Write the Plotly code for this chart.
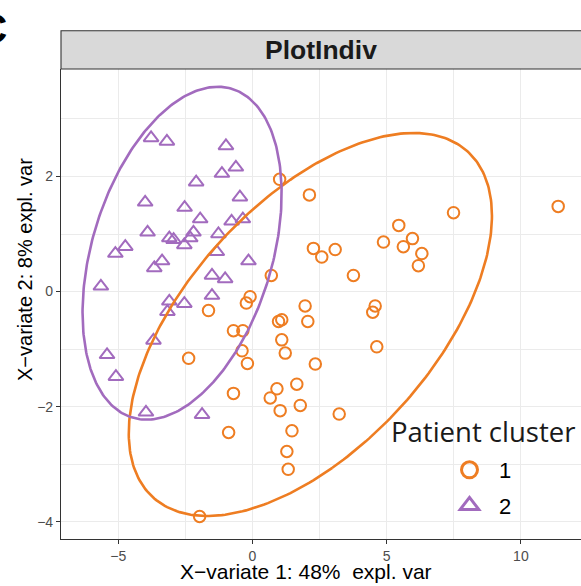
import numpy as np
import plotly.graph_objects as go

# ---------------- data ----------------
cluster1_x = [1.01, 2.12, 11.39, 7.49, 5.45, 5.96, 4.88, 2.27, 3.08, 2.58,
              5.62, 6.31, 6.18, 3.76, 0.70, -0.09, -0.23, -1.64, 1.96, 4.57,
              4.48, 0.97, 1.09, 2.06, -0.71, -0.36, 1.09, -0.39, 1.22, -2.38,
              -0.19, 4.63, 2.34, 0.91, 1.65, 0.66, 1.78, 1.03, -0.71, 3.23,
              1.47, -0.89, 1.28, 1.33, -1.97]
cluster1_y = [1.95, 1.68, 1.48, 1.37, 1.15, 0.92, 0.86, 0.75, 0.73, 0.60,
              0.78, 0.66, 0.45, 0.28, 0.28, -0.09, -0.20, -0.33, -0.25, -0.25,
              -0.36, -0.52, -0.49, -0.52, -0.68, -0.68, -0.84, -1.03, -1.07, -1.16,
              -1.25, -0.96, -1.26, -1.69, -1.61, -1.85, -1.98, -2.07, -1.77, -2.13,
              -2.42, -2.45, -2.78, -3.09, -3.91]
cluster2_x = [-3.78, -3.19, -0.99, -0.62, -1.14, -2.10, -4.00, -0.47, -2.53, -1.95,
              -0.78, -0.36, -3.91, -2.20, -3.10, -2.94, -2.32, -2.54, -1.27, -4.74,
              -5.11, -1.33, -3.37, -3.66, -0.15, -1.51, -1.02, -5.65, -3.10, -3.17,
              -2.54, -1.51, -3.69, -5.42, -5.09, -3.97, -1.88]
cluster2_y = [2.67, 2.61, 2.53, 2.16, 2.05, 1.90, 1.55, 1.64, 1.46, 1.26,
              1.22, 1.26, 1.03, 1.03, 0.93, 0.90, 0.93, 0.81, 1.00, 0.78,
              0.66, 0.69, 0.53, 0.41, 0.53, 0.28, 0.22, 0.09, -0.17, -0.35,
              -0.21, -0.07, -0.85, -1.10, -1.48, -2.10, -2.14]

cluster_names = ["1", "2"]
x_ticks = [-5, 0, 5, 10]
y_ticks = [-4, -2, 0, 2]
ellipse_level = 0.95

ORANGE = "#EE7D22"
PURPLE = "#A26BBE"
FONT = "Liberation Sans, Arial, sans-serif"


def conf_ellipse(x, y, level=0.95, n=300):
    """95% confidence ellipse (like mixOmics / ellipse::ellipse on cov matrix)."""
    pts = np.column_stack([x, y])
    centre = pts.mean(axis=0)
    cov = np.cov(pts, rowvar=False)
    t = np.sqrt(-2.0 * np.log(1.0 - level))  # sqrt(qchisq(level, 2))
    vals, vecs = np.linalg.eigh(cov)
    a = np.linspace(0, 2 * np.pi, n)
    circ = np.vstack([np.cos(a), np.sin(a)])
    ell = (vecs @ np.diag(np.sqrt(vals)) @ circ) * t
    return ell[0] + centre[0], ell[1] + centre[1]


fig = go.Figure()

# points
fig.add_trace(go.Scatter(
    x=cluster1_x, y=cluster1_y, mode="markers", showlegend=False,
    marker=dict(symbol="circle-open", size=11.5, color=ORANGE,
                line=dict(width=2, color=ORANGE))))
fig.add_trace(go.Scatter(
    x=cluster2_x, y=cluster2_y, mode="markers", showlegend=False,
    marker=dict(symbol="triangle-up-open", size=13, color=PURPLE,
                line=dict(width=2, color=PURPLE))))

# ellipses
for xs, ys, col in [(cluster1_x, cluster1_y, ORANGE), (cluster2_x, cluster2_y, PURPLE)]:
    ex, ey = conf_ellipse(np.array(xs), np.array(ys), ellipse_level)
    fig.add_trace(go.Scatter(x=ex, y=ey, mode="lines", showlegend=False,
                             line=dict(color=col, width=2.6), hoverinfo="skip"))

# legend entries
for name, sym, col in [(cluster_names[0], "circle-open", ORANGE),
                       (cluster_names[1], "triangle-up-open", PURPLE)]:
    fig.add_trace(go.Scatter(x=[None], y=[None], mode="markers", name=name,
                             legendgroup="g" + name,
                             marker=dict(symbol=sym, size=16, color=col,
                                         line=dict(width=3, color=col))))

# page body margin is removed by post_script below, so figure pixels = page pixels
W, H = 581, 586
ml, mr, mt, mb = 61, 0, 69, 47
pw, ph = W - ml - mr, H - mt - mb


def px_x(p):
    return (p - ml) / pw


def px_y(p):
    return (H - mb - p) / ph


grid = "#EBEBEB"
axis_common = dict(
    showgrid=True, gridcolor=grid, gridwidth=1.1,
    zeroline=False, showline=True, linecolor="#333333", linewidth=1.1,
    ticks="outside", ticklen=4, tickwidth=1.1, tickcolor="#333333",
    tickfont=dict(family=FONT, size=14, color="#4D4D4D"),
)

fig.update_layout(
    width=W, height=H,
    margin=dict(l=ml, r=mr, t=mt, b=mb, pad=0),
    paper_bgcolor="white", plot_bgcolor="white",
    font=dict(family=FONT, color="black"),
    xaxis=dict(range=[-7.136, 12.24], tickvals=x_ticks,
               minor=dict(dtick=2.5, tick0=0, showgrid=True, gridcolor=grid, gridwidth=0.6,
                          ticks=""),
               **axis_common),
    yaxis=dict(range=[-4.301, 3.868], tickvals=y_ticks,
               minor=dict(dtick=1, tick0=0, showgrid=True, gridcolor=grid, gridwidth=0.6,
                          ticks=""),
               **axis_common),
    showlegend=True,
    legend=dict(x=px_x(440), y=px_y(449), xanchor="left", yanchor="top",
                bgcolor="rgba(0,0,0,0)", borderwidth=0,
                font=dict(family=FONT, size=22, color="black"),
                itemwidth=49, tracegroupgap=4, traceorder="grouped"),
)

# white legend background box (hides gridlines there)
fig.add_shape(type="rect", xref="x", yref="y", layer="below",
              x0=6.69, x1=11.53, y0=-4.06, y1=-2.11,
              fillcolor="white", line=dict(width=0))

# strip (facet title)
fig.add_shape(type="rect", xref="paper", yref="paper",
              x0=0, x1=1.003, y0=1, y1=px_y(30.7),
              fillcolor="#D9D9D9", line=dict(color="#333333", width=1.1))
fig.add_annotation(text="<b>PlotIndiv</b>", xref="paper", yref="paper",
                   x=px_x(320.5), y=px_y(50), xanchor="center", yanchor="middle",
                   showarrow=False, font=dict(family=FONT, size=26.5, color="#1A1A1A"))

# axis titles
fig.add_annotation(text="X\u2212variate 1: 48%  expl. var", xref="paper", yref="paper",
                   x=px_x(306), y=px_y(571), xanchor="center", yanchor="middle",
                   showarrow=False, font=dict(family=FONT, size=21, color="black"))
fig.add_annotation(text="X\u2212variate 2: 8% expl. var", xref="paper", yref="paper",
                   x=px_x(25), y=px_y(270), xanchor="center", yanchor="middle",
                   textangle=-90, showarrow=False,
                   font=dict(family=FONT, size=20, color="black"))

# legend title
fig.add_annotation(text="Patient cluster", xref="paper", yref="paper",
                   x=px_x(482.5), y=px_y(431), xanchor="center", yanchor="middle",
                   showarrow=False,
                   font=dict(family="Open Sans, Noto Sans, sans-serif", size=27.5, color="#1A1A1A"))

# panel tag (mostly cut off at the left edge, as in the reference)
fig.add_annotation(text="<b>C</b>", xref="paper", yref="paper",
                   x=px_x(9), y=px_y(28), xanchor="right", yanchor="middle",
                   showarrow=False, font=dict(family=FONT, size=42, color="black"))

fig.write_html("out.html", config={"displayModeBar": False},
               post_script="document.body.style.margin='0px';")
